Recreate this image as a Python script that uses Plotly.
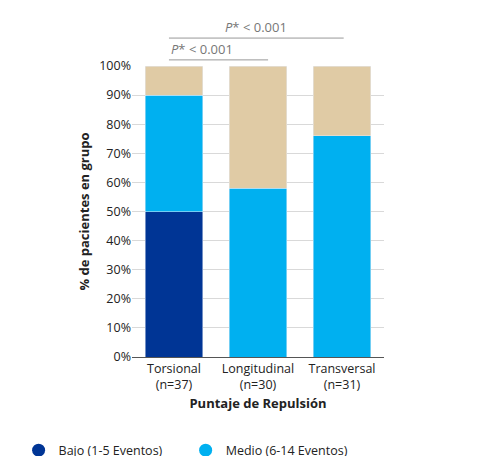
import plotly.graph_objects as go

categories = ["Torsional<br>(n=37)", "Longitudinal<br>(n=30)", "Transversal<br>(n=31)"]
bajo = [50, 0, 0]
medio = [40, 58, 76]
alto = [10, 42, 24]
names = ["Bajo (1-5 Eventos)", "Medio (6-14 Eventos)", "Alto (> 15 Eventos)"]
colors = ["#003595", "#00b0f0", "#e0cba5"]

fig = go.Figure()
for vals, name, col in zip([bajo, medio, alto], names, colors):
    fig.add_trace(go.Bar(x=categories, y=vals, name=name, marker_color=col, showlegend=False))
# circle legend markers
for name, col in zip(names, colors):
    fig.add_trace(go.Scatter(x=[None], y=[None], mode="markers", name=name,
                             marker=dict(color=col, size=13, symbol="circle")))

# significance brackets
for x0, x1, y in [(-0.06, 2.02, 1.096), (-0.06, 1.12, 1.021)]:
    fig.add_shape(type="line", xref="x", yref="paper", x0=x0, x1=x1, y0=y, y1=y,
                  line=dict(color="#999999", width=1))
fig.add_annotation(xref="x", yref="paper", x=0.98, y=1.096, yanchor="bottom", showarrow=False,
                   text="<i>P</i>* &lt; 0.001", font=dict(color="#777777", size=13))
fig.add_annotation(xref="x", yref="paper", x=-0.06, xanchor="left", y=1.021, yanchor="bottom",
                   showarrow=False, text="<i>P</i>* &lt; 0.001", font=dict(color="#777777", size=13))

fig.update_layout(
    barmode="stack", bargap=0.31, width=492, height=456,
    margin=dict(l=124, r=116, t=58, b=107, autoexpand=False),
    plot_bgcolor="white", paper_bgcolor="white",
    font=dict(family="Open Sans", size=12, color="#222222"),
    legend=dict(orientation="h", x=-0.45, xanchor="left", y=-0.27, yanchor="top",
                font=dict(size=12.5), itemwidth=30, traceorder="normal",
                entrywidthmode="pixels", entrywidth=0, tracegroupgap=0),
    xaxis=dict(title=dict(text="<b>Puntaje de Repulsión</b>", standoff=6, font=dict(size=13)),
               showline=True, linecolor="#555555", ticks="", tickfont=dict(size=12.5)),
    yaxis=dict(title=dict(text="<b>% de pacientes en grupo</b>", standoff=6, font=dict(size=13)),
               range=[0, 100], dtick=10, ticksuffix="%", gridcolor="#d9d9d9",
               zeroline=False, showline=False, tickfont=dict(size=12.5)),
)
fig.write_html("out.html")
